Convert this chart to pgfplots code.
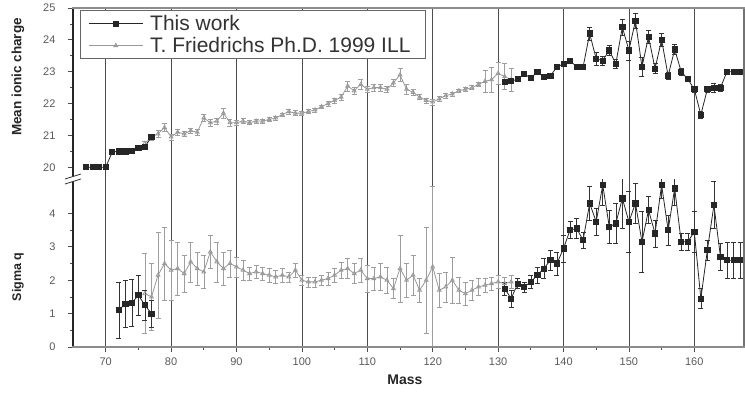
\documentclass[border=0pt]{standalone}
\usepackage{fontspec}
\setmainfont{Liberation Sans}
\usepackage{pgfplots}
\usepackage{pgfplotstable}
\pgfplotsset{compat=1.18}

\pgfplotstableread{
m v e
67 20.00 0.03
68 20.00 0.03
69 20.00 0.03
70 20.00 0.03
71 20.48 0.05
72 20.50 0.05
73 20.50 0.05
74 20.52 0.05
75 20.60 0.06
76 20.65 0.06
77 20.95 0.08
100 nan nan
131 22.67 0.06
132 22.70 0.06
133 22.77 0.06
134 22.93 0.08
135 22.80 0.06
136 23.00 0.08
137 22.83 0.06
138 22.87 0.06
139 23.15 0.08
140 23.25 0.08
141 23.35 0.08
142 23.15 0.08
143 23.15 0.08
144 24.20 0.20
145 23.40 0.20
146 23.35 0.15
147 23.67 0.15
148 23.25 0.15
149 24.40 0.25
150 23.67 0.30
151 24.60 0.25
152 23.15 0.30
153 24.10 0.20
154 23.10 0.15
155 24.00 0.20
156 22.87 0.10
157 23.70 0.15
158 23.00 0.10
159 22.77 0.08
160 22.45 0.08
161 21.65 0.10
162 22.45 0.10
163 22.50 0.15
164 22.50 0.10
165 23.00 0.05
166 23.00 0.05
167 23.00 0.05
}\upblack

\pgfplotstableread{
m v e
76 20.75 0.08
77 20.95 0.10
78 21.05 0.10
79 21.25 0.12
80 20.95 0.10
81 21.10 0.08
82 21.05 0.08
83 21.15 0.08
84 21.10 0.08
85 21.55 0.12
86 21.40 0.10
87 21.45 0.10
88 21.70 0.15
89 21.40 0.10
90 21.40 0.08
91 21.45 0.08
92 21.40 0.06
93 21.45 0.06
94 21.45 0.06
95 21.50 0.06
96 21.55 0.06
97 21.65 0.06
98 21.75 0.08
99 21.70 0.08
100 21.70 0.06
101 21.75 0.06
102 21.80 0.06
103 21.90 0.06
104 22.00 0.08
105 22.10 0.08
106 22.20 0.10
107 22.55 0.15
108 22.40 0.12
109 22.60 0.15
110 22.45 0.10
111 22.50 0.10
112 22.50 0.10
113 22.45 0.10
114 22.65 0.12
115 22.90 0.20
116 22.45 0.15
117 22.35 0.10
118 22.20 0.08
119 22.10 0.08
120 22.05 0.10
121 22.15 0.08
122 22.25 0.08
123 22.30 0.06
124 22.40 0.06
125 22.45 0.06
126 22.50 0.06
127 22.60 0.06
128 22.70 0.35
129 22.75 0.40
130 22.95 0.35
131 22.85 0.40
132 22.75 0.35
}\upgray

\pgfplotstableread{
m v e
72 1.10 0.85
73 1.30 0.70
74 1.32 0.70
75 1.55 0.60
76 1.25 0.45
77 1.00 0.40
100 nan nan
131 1.75 0.20
132 1.45 0.25
133 1.90 0.15
134 1.80 0.15
135 1.95 0.20
136 2.15 0.25
137 2.35 0.30
138 2.60 0.30
139 2.50 0.35
140 2.95 0.40
141 3.50 0.25
142 3.55 0.30
143 3.20 0.25
144 4.30 0.50
145 3.75 0.40
146 4.85 0.60
147 3.60 0.50
148 3.70 0.60
149 4.45 0.90
150 3.75 0.90
151 4.30 0.60
152 3.15 0.90
153 4.10 0.40
154 3.40 0.40
155 4.85 0.40
156 3.50 0.45
157 4.75 0.50
158 3.15 0.25
159 3.15 0.25
160 3.45 0.60
161 1.45 0.30
162 2.90 0.30
163 4.25 0.70
164 2.70 0.40
165 2.60 0.55
166 2.60 0.55
167 2.60 0.55
}\lowblack

\pgfplotstableread{
m v e
76 1.60 1.20
77 1.50 1.00
78 2.15 1.30
79 2.50 1.10
80 2.30 0.90
81 2.35 0.80
82 2.20 0.55
83 2.55 0.60
84 2.35 0.50
85 2.25 0.50
86 2.85 0.50
87 2.55 0.60
88 2.35 0.50
89 2.50 0.40
90 2.40 0.30
91 2.30 0.30
92 2.20 0.20
93 2.25 0.20
94 2.20 0.20
95 2.15 0.20
96 2.10 0.20
97 2.15 0.20
98 2.10 0.15
99 2.30 0.20
100 2.00 0.15
101 1.95 0.15
102 1.95 0.15
103 2.00 0.15
104 2.05 0.20
105 2.15 0.20
106 2.30 0.25
107 2.35 0.30
108 2.20 0.30
109 2.30 0.35
110 2.05 0.40
111 2.05 0.35
112 2.10 0.40
113 2.00 0.40
114 1.75 0.30
115 2.35 1.00
116 2.00 0.50
117 2.15 0.60
118 1.70 0.35
119 2.00 1.60
120 2.40 2.40
121 1.70 0.50
122 1.80 0.45
123 2.00 0.70
124 1.70 0.40
125 1.60 0.35
126 1.70 0.30
127 1.80 0.25
128 1.85 0.20
129 1.90 0.20
130 1.95 0.20
131 1.90 0.20
132 1.95 0.20
}\lowgray

\pgfplotsset{
  common/.style={
    scale only axis, width=671pt,
    xmin=65, xmax=167.6,
    xtick={70,80,...,160},
    minor x tick num=1,
    xmajorgrids,
    major grid style={black!70, line width=0.8pt},
    axis line style={draw=none},
    tick align=outside,
    major tick length=5pt, minor tick length=3pt,
    tick style={black!70, line width=0.7pt},
    ytick pos=left,
    minor y tick num=1,
    /pgf/number format/assume math mode=true,
    ticklabel style={font=\fontsize{11}{12}\selectfont, text=black!65},
    yticklabel style={xshift=-9pt},
    unbounded coords=jump,
  },
  blk/.style={black!85, line width=0.8pt, mark=square*, mark size=2.6pt,
    mark options={fill=black!85, draw=black!85},
    error bars/.cd, y dir=both, y explicit,
    error bar style={line width=0.5pt, black!80},
    error mark options={rotate=90, mark size=2.5pt, line width=0.5pt, black!80}},
  gry/.style={black!40, line width=0.8pt, mark=triangle, mark size=2.2pt,
    mark options={draw=black!40, fill=white},
    error bars/.cd, y dir=both, y explicit,
    error bar style={line width=0.5pt, black!38},
    error mark options={rotate=90, mark size=2.5pt, line width=0.5pt, black!38}},
}

\begin{document}
\begin{tikzpicture}
\useasboundingbox (0pt,0pt) rectangle (745pt,395pt);

\begin{axis}[common, at={(73pt,215pt)}, anchor=south west, height=172pt,
  ymin=19.6, ymax=25, ytick={20,...,25},
  xticklabels={}, xtick pos=right, xtick style={draw=none},
  reverse legend,
  legend style={at={(rel axis cs:0.0104,0.988)}, anchor=north west,
    draw=black!60, line width=0.8pt, fill=white,
    font=\fontsize{21}{23}\selectfont, text=black!80,
    inner xsep=8pt, inner ysep=3pt, row sep=1pt,
    nodes={inner xsep=7pt, inner ysep=2pt},
    cells={anchor=west}},
  legend image code/.code={\draw[mark repeat=2,mark phase=2,#1] plot coordinates {(0pt,0pt) (27pt,0pt) (54pt,0pt)};},
]
\addplot+[gry] table[x=m,y=v,y error=e]{\upgray};
\addlegendentry{T. Friedrichs Ph.D. 1999 ILL}
\addplot+[blk] table[x=m,y=v,y error=e]{\upblack};
\addlegendentry{This work}
\end{axis}

\begin{axis}[common, at={(73pt,48pt)}, anchor=south west, height=167pt,
  ymin=0, ymax=5, ytick={0,...,4},
  xtick pos=left,
  xticklabel style={yshift=-2pt},
]
\addplot+[gry] table[x=m,y=v,y error=e]{\lowgray};
\addplot+[blk] table[x=m,y=v,y error=e]{\lowblack};
\end{axis}

% frame
\draw[black!85, line width=1.2pt] (73pt,48pt) -- (73pt,387pt);
\draw[black!55, line width=1.2pt] (744pt,48pt) -- (744pt,387pt);
\draw[black!45, line width=2.6pt] (72pt,387pt) -- (745pt,387pt);
\draw[black!45, line width=2.6pt] (72pt,48pt) -- (745pt,48pt);
% axis break
\fill[white] (65pt,211pt) -- (81pt,216pt) -- (81pt,221pt) -- (65pt,216pt) -- cycle;
\draw[black!80, line width=0.8pt] (65pt,211pt) -- (81pt,216pt);
\draw[black!80, line width=0.8pt] (65pt,216pt) -- (81pt,221pt);

% labels
\node[rotate=90, font=\bfseries\fontsize{13.5}{15}\selectfont, text=black!85] at (18pt,318pt) {Mean ionic charge};
\node[rotate=90, font=\bfseries\fontsize{12.5}{14}\selectfont, text=black!85] at (18pt,118pt) {Sigma q};
\node[font=\bfseries\fontsize{14}{16}\selectfont, text=black!85] at (405pt,15pt) {Mass};
\end{tikzpicture}
\end{document}
